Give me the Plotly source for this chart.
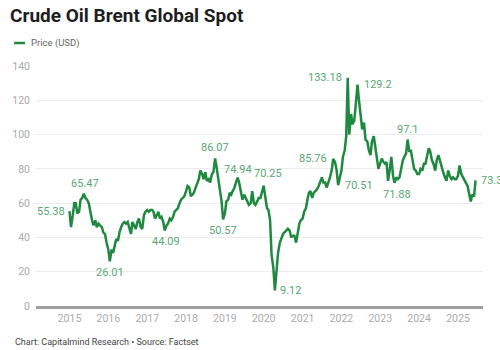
import pandas as pd
import plotly.graph_objects as go

# ---- data (semi-monthly Brent spot, USD) ----
y2015 = [55.38, 46, 53, 60, 60, 54, 55, 62, 63, 65.47, 63, 62, 60, 55, 50, 47, 50, 46, 48, 47, 46, 43, 42, 37]
y2016 = [33, 26.01, 33, 31, 36, 39, 38, 43, 46, 48, 49, 48, 49, 46, 42, 49, 47, 45, 49, 51, 46, 45, 53, 55]
y2017 = [56, 55, 56, 56, 55, 51, 53, 55, 51, 52, 49, 44.09, 47, 48, 51, 50, 52, 55, 56, 57, 60, 62, 63, 64]
y2018 = [67, 70, 69, 64, 65, 66, 69, 72, 74, 79, 77, 74, 78, 73, 74, 72, 77, 78, 86.07, 81, 73, 67, 61, 50.57]
y2019 = [54, 61, 62, 66, 65, 67, 69, 72, 74.94, 72, 66, 62, 65, 63, 60, 59, 60, 67, 60, 59, 61, 63, 63, 66]
y2020 = [70.25, 64, 57, 56, 50, 30, 22, 9.12, 22, 31, 37, 40, 42, 43, 44, 45, 44, 40, 41, 41, 37, 43, 48, 50]
y2021 = [51, 55, 57, 62, 66, 67, 63, 66, 67, 68, 70, 73, 75, 72, 72, 69, 72, 75, 79, 85.76, 84, 80, 70.51, 75]
y2022 = [79, 87, 91, 99, 133.18, 100, 112, 106, 108, 117, 129.2, 120, 112, 103, 107, 97, 96, 91, 88, 96, 99, 94, 86, 80]
y2023 = [83, 86, 84, 83, 84, 73, 80, 87, 76, 71.88, 75, 74, 75, 80, 85, 87, 89, 97.1, 90, 91, 86, 80, 79, 77]
y2024 = [77, 80, 79, 83, 83, 88, 92, 90, 85, 83, 79, 85, 88, 85, 80, 78, 75, 73, 79, 76, 74, 75, 74, 74]
y2025 = [76, 82, 77, 75, 74, 72, 70, 65, 61, 65, 64, 73.3]

prices = y2015 + y2016 + y2017 + y2018 + y2019 + y2020 + y2021 + y2022 + y2023 + y2024 + y2025
dates = pd.date_range("2015-01-01", periods=len(prices), freq="SMS")

label_values = [55.38, 65.47, 26.01, 44.09, 86.07, 50.57, 74.94, 70.25, 9.12,
                85.76, 70.51, 133.18, 129.2, 71.88, 97.1, 73.3]
label_texts = ["55.38", "65.47", "26.01", "44.09", "86.07", "50.57", "74.94", "70.25", "9.12",
               "85.76", "70.51", "133.18", "129.2", "71.88", "97.1", "73.3"]

series_name = "Price (USD)"
title_text = "Crude Oil Brent Global Spot"
footer_text = "Chart: Capitalmind Research \u2022 Source: Factset"
year_ticks = [str(y) for y in range(2015, 2026)]

# ---- styling ----
LINE_GREEN = "#1f8a3f"
LABEL_GREEN = "#58a874"
GRID = "#ebebeb"
TICK = "#aaaaaa"
FONT = "Roboto"

# placement per label: (xanchor, yanchor, xshift, yshift)
placement = {
    "55.38": ("right", "middle", -3, 0),
    "65.47": ("center", "bottom", 1, 2),
    "26.01": ("center", "top", 0, -3),
    "44.09": ("center", "top", 1, -3),
    "86.07": ("center", "bottom", 0, 2),
    "50.57": ("center", "top", 0, -3),
    "74.94": ("center", "bottom", 0, 0),
    "70.25": ("center", "bottom", 4, 4),
    "9.12": ("left", "middle", 3, 0),
    "85.76": ("right", "middle", -4, 0),
    "70.51": ("left", "middle", 5, 0),
    "133.18": ("right", "middle", -4, 0),
    "129.2": ("left", "middle", 4, 0),
    "71.88": ("center", "top", 2, -3),
    "97.1": ("center", "bottom", 0, 2),
    "73.3": ("left", "middle", 3, 0),
}

fig = go.Figure()
fig.add_trace(go.Scatter(
    x=dates, y=prices, mode="lines", name=series_name,
    line=dict(color=LINE_GREEN, width=2.5), showlegend=False,
))

annotations = []
for val, txt in zip(label_values, label_texts):
    idx = prices.index(val)
    xa, ya, xs, ys = placement[txt]
    annotations.append(dict(
        x=dates[idx], y=val, xref="x", yref="y", text=txt, showarrow=False,
        xanchor=xa, yanchor=ya, xshift=xs, yshift=ys,
        font=dict(family=FONT, size=11, color=LABEL_GREEN),
    ))

# title, legend text, footer
annotations.append(dict(x=5, y=350 - 15, xref="paper", yref="paper", text=f"<b>{title_text}</b>",
                        showarrow=False, xanchor="left", yanchor="middle",
                        font=dict(family=FONT, size=19, color="#1e1e1e")))
annotations.append(dict(x=26, y=350 - 43, xref="paper", yref="paper", text=series_name,
                        showarrow=False, xanchor="left", yanchor="middle",
                        font=dict(family=FONT, size=9.5, color="#666666")))
annotations.append(dict(x=10, y=350 - 342, xref="paper", yref="paper", text=footer_text,
                        showarrow=False, xanchor="left", yanchor="middle",
                        font=dict(family=FONT, size=9, color="#444444")))

# convert pixel paper positions to paper fractions
W, H = 500, 350
L, R, T, B = 33, 17, 66, 44
pw, ph = W - L - R, H - T - B
for a in annotations:
    if a["xref"] == "paper":
        a["x"] = (a["x"] - L) / pw
        a["y"] = (a["y"] - B) / ph

legend_shape = dict(type="line", xref="paper", yref="paper",
                    x0=(11 - L) / pw, x1=(22 - L) / pw,
                    y0=(350 - 43 - B) / ph, y1=(350 - 43 - B) / ph,
                    line=dict(color=LINE_GREEN, width=2.5))

fig.update_layout(
    width=W, height=H,
    margin=dict(l=L, r=R, t=T, b=B),
    paper_bgcolor="white", plot_bgcolor="white",
    annotations=annotations,
    shapes=[legend_shape],
    showlegend=False,
    font=dict(family=FONT),
)
fig.update_xaxes(
    type="date",
    range=["2014-02-20", "2025-08-24"],
    tickvals=[pd.Timestamp(f"{y}-01-01") for y in year_ticks],
    ticktext=year_ticks,
    showgrid=False, zeroline=False,
    showline=True, linecolor="#a0a0a0", linewidth=3,
    ticks="", tickfont=dict(family=FONT, size=10.5, color=TICK),
)
fig.update_yaxes(
    range=[0, 140], tickvals=[0, 20, 40, 60, 80, 100, 120, 140],
    showgrid=True, gridcolor=GRID, gridwidth=1, zeroline=False,
    showline=False, ticks="", ticklabelstandoff=5,
    tickfont=dict(family=FONT, size=10.5, color=TICK),
)

fig.write_html("out.html")
